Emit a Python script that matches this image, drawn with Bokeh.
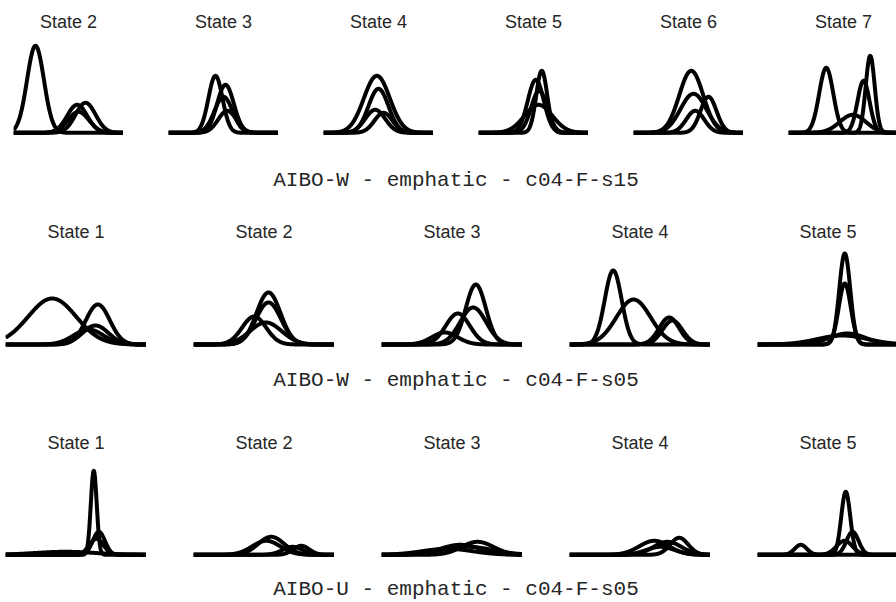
import numpy as np
from bokeh.plotting import figure
from bokeh.layouts import row, column
from bokeh.models import Spacer, Label, Range1d
from bokeh.embed import file_html
from bokeh.resources import INLINE

# ---------------- data (component mean / sd on a 0-100 feature scale, peak density) -------------
row1_states = ["State 2", "State 3", "State 4", "State 5", "State 6", "State 7"]
row1_means = [[20.0, 57.9, 65.5, 59.1], [42.7, 51.8, 50.0, 53.4], [48.5, 50.0, 47.0, 54.5],
              [57.5, 52.1, 54.5, 55.2], [52.5, 54.5, 68.2, 56.1], [34.3, 74.3, 68.2, 58.5]]
row1_sds = [[7.7, 9.1, 9.1, 9.5], [6.4, 7.6, 8.2, 8.2], [11.8, 9.1, 9.1, 8.2],
            [5.0, 7.3, 12.7, 7.3], [10.9, 11.8, 7.3, 8.2], [6.4, 4.1, 5.5, 11.8]]
row1_peaks = [[0.87, 0.28, 0.30, 0.21], [0.57, 0.48, 0.36, 0.22], [0.57, 0.44, 0.23, 0.20],
              [0.62, 0.53, 0.28, 0.42], [0.62, 0.39, 0.36, 0.22], [0.65, 0.77, 0.52, 0.18]]
row1_caption = "AIBO-W - emphatic - c04-F-s15"

row2_states = ["State 1", "State 2", "State 3", "State 4", "State 5"]
row2_means = [[33.1, 65.5, 63.8, 58.9], [53.2, 53.2, 43.0, 51.3], [66.9, 65.0, 54.1, 44.9],
              [31.0, 45.4, 70.7, 73.0], [61.9, 61.9, 63.8, 60.3]]
row2_sds = [[17.0, 8.5, 9.2, 10.6], [8.5, 8.9, 8.5, 11.3], [7.1, 9.2, 8.5, 9.2],
            [6.0, 12.1, 7.1, 7.1], [3.9, 4.3, 12.8, 17.7]]
row2_peaks = [[0.46, 0.40, 0.19, 0.15], [0.52, 0.42, 0.28, 0.22], [0.60, 0.37, 0.31, 0.12],
              [0.74, 0.45, 0.27, 0.24], [0.91, 0.61, 0.11, 0.09]]
row2_caption = "AIBO-W - emphatic - c04-F-s05"

row3_states = ["State 1", "State 2", "State 3", "State 4", "State 5"]
row3_means = [[62.6, 66.2, 64.5, 42.6], [55.1, 51.6, 76.4, 70.2], [68.1, 56.0, 61.0, 46.8],
              [77.8, 60.1, 69.5, 64.5], [30.7, 62.6, 67.4, 61.7]]
row3_sds = [[2.1, 4.3, 5.0, 21.3], [9.2, 9.9, 5.7, 7.1], [11.3, 14.2, 17.7, 17.7],
            [6.4, 10.6, 9.9, 9.9], [4.3, 3.2, 4.3, 5.7]]
row3_peaks = [[0.84, 0.23, 0.16, 0.03], [0.18, 0.14, 0.09, 0.08], [0.13, 0.10, 0.08, 0.06],
              [0.17, 0.14, 0.13, 0.08], [0.10, 0.63, 0.23, 0.14]]
row3_caption = "AIBO-U - emphatic - c04-F-s05"

# ---------------- layout / style ----------------
TOTAL_W = 896
LINE_W = 4
PX_PER_UNIT = 100.0
TITLE_FONT = "Liberation Sans"
CAP_FONT = "Liberation Mono"
TEXT_COLOR = "#262626"


def make_panel(title, means, sds, peaks, fig_w, full_w, height, base_top, title_top):
    xr = Range1d(0, 100.0 * fig_w / full_w)
    yr = Range1d(-(height - base_top) / PX_PER_UNIT, base_top / PX_PER_UNIT)
    p = figure(width=fig_w, height=height, x_range=xr, y_range=yr,
               output_backend="svg", toolbar_location=None,
               x_axis_type=None, y_axis_type=None,
               min_border=0, min_border_left=0, min_border_right=0,
               min_border_top=0, min_border_bottom=0,
               outline_line_color=None, background_fill_color="white",
               border_fill_color="white")
    p.grid.visible = False
    xs = np.linspace(0, 100, 600)
    for m, s, h in zip(means, sds, peaks):
        ys = h * np.exp(-0.5 * ((xs - m) / s) ** 2)
        p.line(xs, ys, line_width=LINE_W, line_color="black",
               line_join="round", line_cap="butt")
    p.add_layout(Label(x=50, y=height - title_top, x_units="data", y_units="screen",
                       text=title, text_align="center", text_baseline="alphabetic",
                       text_font=TITLE_FONT, text_font_size="18px",
                       text_color=TEXT_COLOR))
    return p


def make_row(states, means, sds, peaks, left, panel_w, gap, height, base_top, title_top):
    children = [Spacer(width=left, height=height)]
    x = left
    for i, st in enumerate(states):
        if i > 0:
            children.append(Spacer(width=gap, height=height))
            x += gap
        fw = min(panel_w, TOTAL_W - x)
        children.append(make_panel(st, means[i], sds[i], peaks[i], fw, panel_w,
                                   height, base_top, title_top))
        x += fw
    if x < TOTAL_W:
        children.append(Spacer(width=TOTAL_W - x, height=height))
    return row(*children, spacing=0)


def make_caption(text, height, baseline_from_top):
    p = figure(width=TOTAL_W, height=height, x_range=(0, 1), y_range=(0, 1),
               output_backend="svg", toolbar_location=None,
               x_axis_type=None, y_axis_type=None,
               min_border=0, min_border_left=0, min_border_right=0,
               min_border_top=0, min_border_bottom=0,
               outline_line_color=None, background_fill_color="white",
               border_fill_color="white")
    p.grid.visible = False
    p.add_layout(Label(x=455.5, y=height - baseline_from_top, x_units="screen",
                       y_units="screen", text=text, text_align="center",
                       text_baseline="alphabetic", text_font=CAP_FONT,
                       text_font_size="21px", text_color=TEXT_COLOR))
    return p


r1 = make_row(row1_states, row1_means, row1_sds, row1_peaks,
              left=13, panel_w=110, gap=45, height=150, base_top=132.3, title_top=21.8)
c1 = make_caption(row1_caption, 50, 29.5)
r2 = make_row(row2_states, row2_means, row2_sds, row2_peaks,
              left=5, panel_w=141, gap=47, height=160, base_top=144.0, title_top=31.5)
c2 = make_caption(row2_caption, 40, 19.5)
r3 = make_row(row3_states, row3_means, row3_sds, row3_peaks,
              left=5, panel_w=141, gap=47, height=170, base_top=154.3, title_top=42.5)
c3 = make_caption(row3_caption, 32, 19)

layout = column(r1, c1, r2, c2, r3, c3, spacing=0)

open("out.html", "w").write(file_html(layout, INLINE))
